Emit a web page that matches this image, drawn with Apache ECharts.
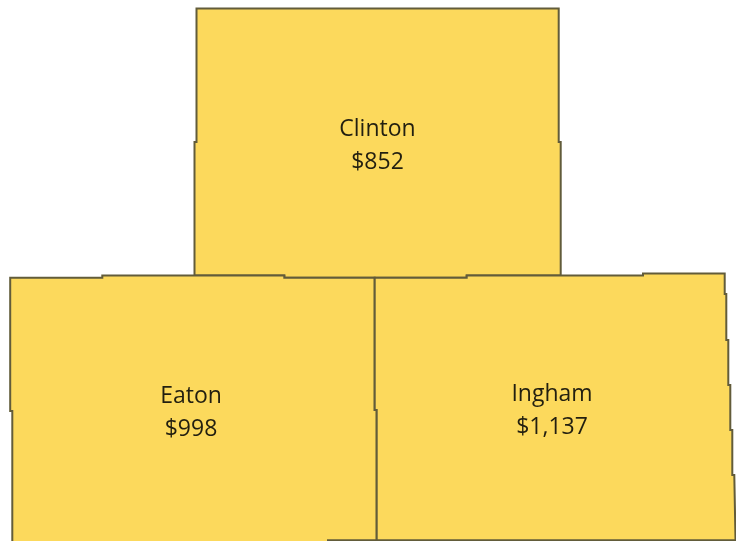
<!DOCTYPE html>
<html lang="en">
<head>
    <meta charset="UTF-8">
    <title>County map</title>
    <script src="https://cdn.jsdelivr.net/npm/echarts@6/dist/echarts.min.js"></script>
    <style>
        html, body { margin: 0; background: #fff; }
        #main { width: 736px; height: 541px; }
    </style>
</head>
<body>
<div id="main"></div>
<script>
    // chart values
    var counties = ['Clinton', 'Eaton', 'Ingham'];
    var amounts = [852, 998, 1137];

    // county outlines and label anchors, map units
    var clintonOutline = [[196.5,8.5],[558.7,8.5],[558.7,142],[560.7,142],[560.7,275.5],[466.7,275.5],[466.7,277.7],[374.7,277.7],[284.3,277.7],[284.3,275.5],[194.5,275.5],[194.5,142],[196.5,142],[196.5,8.5]];
    var eatonOutline = [[10.2,277.7],[102.3,277.7],[102.3,275.5],[194.5,275.5],[284.3,275.5],[284.3,277.7],[374.7,277.7],[374.7,410],[376.7,410],[376.7,540.3],[328,540.3],[328,544],[12.3,544],[12.3,411],[10.2,411],[10.2,277.7]];
    var inghamOutline = [[374.7,277.7],[466.7,277.7],[466.7,275.5],[560.7,275.5],[643,275.5],[643,273.5],[724.7,273.5],[724.7,294],[726.3,294],[726.3,340],[728.3,340],[728.3,385],[730.3,385],[730.3,430],[732.3,430],[732.3,475],[734.3,475],[735.5,540.3],[376.7,540.3],[376.7,410],[374.7,410],[374.7,277.7]];
    var outlines = [clintonOutline, eatonOutline, inghamOutline];
    var labelAnchors = [[377.5,146],[191,413],[552,411]];

    var geoJson = {
        type: 'FeatureCollection',
        features: counties.map(function (name, i) {
            return {
                type: 'Feature',
                properties: { name: name, cp: labelAnchors[i] },
                geometry: { type: 'Polygon', coordinates: [outlines[i]] }
            };
        })
    };
    echarts.registerMap('counties', geoJson);

    var myChart = echarts.init(document.getElementById('main'), null, { renderer: 'canvas' });
    var option = {
        animation: false,
        series: [
            {
                type: 'map',
                map: 'counties',
                roam: false,
                silent: true,
                selectedMode: false,
                // map units are already screen pixels
                projection: {
                    project: function (p) { return p; },
                    unproject: function (p) { return p; }
                },
                left: 10.2,
                top: 8.5,
                width: 725.3,
                height: 535.5,
                itemStyle: {
                    areaColor: '#FCD95C',
                    borderColor: '#625C3A',
                    borderWidth: 2
                },
                label: {
                    show: true,
                    fontFamily: 'Open Sans',
                    fontSize: 23,
                    lineHeight: 33,
                    color: '#221F10',
                    formatter: function (p) {
                        return p.name + '\n$' + p.value.toLocaleString('en-US');
                    }
                },
                data: counties.map(function (name, i) {
                    return { name: name, value: amounts[i] };
                })
            }
        ]
    };
    myChart.setOption(option);
</script>
</body>
</html>
